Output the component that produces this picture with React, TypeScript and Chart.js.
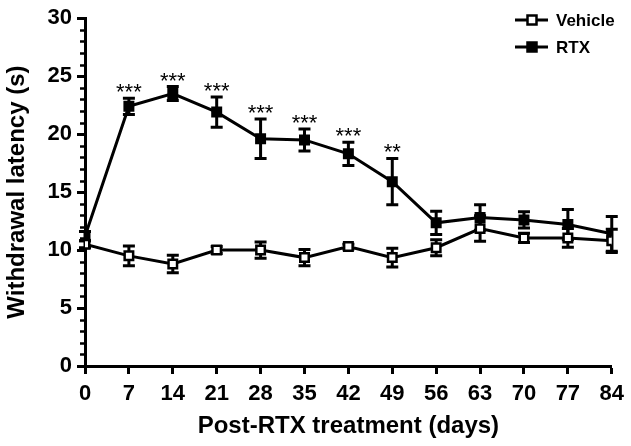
import React, { useEffect, useRef } from "react";
import { Chart, registerables } from "chart.js";

Chart.register(...registerables);

const days = [0, 7, 14, 21, 28, 35, 42, 49, 56, 63, 70, 77, 84];
const vehicleMean = [10.5, 9.5, 8.8, 10.0, 10.0, 9.35, 10.3, 9.35, 10.2, 11.85, 11.05, 11.05, 10.8];
const vehicleSem = [0.3, 0.85, 0.75, 0.3, 0.7, 0.7, 0.2, 0.8, 0.7, 1.1, 0.4, 0.8, 1.0];
const rtxMean = [11.2, 22.4, 23.5, 21.9, 19.6, 19.5, 18.3, 15.9, 12.35, 12.8, 12.6, 12.2, 11.4];
const rtxSem = [0.4, 0.7, 0.6, 1.3, 1.7, 0.95, 1.0, 2.0, 1.0, 1.1, 0.7, 1.3, 1.5];
const rtxStars = ["", "***", "***", "***", "***", "***", "***", "**", "", "", "", "", ""];
const seriesNames = ["Vehicle", "RTX"];
const yMin = 0;
const yMax = 30;
const yMajorStep = 5;
const yMinorStep = 1;
const xMin = 0;
const xMax = 84;
const xStep = 7;

const FONT = '"Liberation Sans", Arial, Helvetica, sans-serif';

const errorBarsPlugin = {
  id: "errorBars",
  beforeDatasetsDraw(chart: any) {
    const { ctx, scales } = chart;
    const x = scales.x;
    const y = scales.y;
    const sets = [
      { m: rtxMean, e: rtxSem },
      { m: vehicleMean, e: vehicleSem },
    ];
    ctx.save();
    ctx.strokeStyle = "#000";
    ctx.lineWidth = 3;
    ctx.lineCap = "butt";
    for (const s of sets) {
      for (let i = 0; i < days.length; i++) {
        const px = x.getPixelForValue(days[i]);
        const top = y.getPixelForValue(s.m[i] + s.e[i]);
        const bot = y.getPixelForValue(s.m[i] - s.e[i]);
        ctx.beginPath();
        ctx.moveTo(px, top);
        ctx.lineTo(px, bot);
        ctx.moveTo(px - 6, top);
        ctx.lineTo(px + 6, top);
        ctx.moveTo(px - 6, bot);
        ctx.lineTo(px + 6, bot);
        ctx.stroke();
      }
    }
    ctx.restore();
  },
  afterDatasetsDraw(chart: any) {
    const { ctx, scales } = chart;
    const x = scales.x;
    const y = scales.y;
    ctx.save();
    ctx.fillStyle = "#000";
    ctx.font = `22px ${FONT}`;
    ctx.textAlign = "center";
    ctx.textBaseline = "alphabetic";
    for (let i = 0; i < days.length; i++) {
      if (!rtxStars[i]) continue;
      const px = x.getPixelForValue(days[i]);
      const top = y.getPixelForValue(rtxMean[i] + rtxSem[i]);
      ctx.fillText(rtxStars[i], px, top + 1);
    }
    ctx.restore();
  },
  afterDraw(chart: any) {
    const { ctx, scales, chartArea } = chart;
    const y = scales.y;
    ctx.save();
    ctx.strokeStyle = "#000";
    ctx.lineWidth = 2.5;
    for (let v = yMin; v <= yMax; v += yMinorStep) {
      if (v % yMajorStep === 0) continue;
      const py = Math.round(y.getPixelForValue(v)) + 0.5;
      ctx.beginPath();
      ctx.moveTo(chartArea.left - 5, py);
      ctx.lineTo(chartArea.left, py);
      ctx.stroke();
    }
    const entries = [
      { name: seriesNames[0], fill: "#fff", y: 20 },
      { name: seriesNames[1], fill: "#000", y: 47 },
    ];
    for (const e of entries) {
      ctx.strokeStyle = "#000";
      ctx.lineWidth = 3;
      ctx.beginPath();
      ctx.moveTo(515, e.y);
      ctx.lineTo(548, e.y);
      ctx.stroke();
      ctx.fillStyle = e.fill;
      ctx.lineWidth = 2.5;
      ctx.beginPath();
      ctx.rect(527.5, e.y - 4.5, 9, 9);
      ctx.fill();
      ctx.stroke();
      ctx.fillStyle = "#000";
      ctx.font = `bold 17px ${FONT}`;
      ctx.textAlign = "left";
      ctx.textBaseline = "middle";
      ctx.fillText(e.name, 556, e.y + 1);
    }
    ctx.restore();
  },
};

export default function App() {
  const ref = useRef<HTMLCanvasElement | null>(null);
  useEffect(() => {
    if (!ref.current) return;
    const chart = new Chart(ref.current, {
      type: "line",
      data: {
        datasets: [
          {
            label: seriesNames[0],
            data: days.map((d, i) => ({ x: d, y: vehicleMean[i] })),
            borderColor: "#000",
            borderWidth: 3,
            pointStyle: "rect",
            pointRadius: 6,
            pointBorderWidth: 2.5,
            pointBackgroundColor: "#fff",
            pointBorderColor: "#000",
            tension: 0,
          },
          {
            label: seriesNames[1],
            data: days.map((d, i) => ({ x: d, y: rtxMean[i] })),
            borderColor: "#000",
            borderWidth: 3,
            pointStyle: "rect",
            pointRadius: 6,
            pointBorderWidth: 2.5,
            pointBackgroundColor: "#000",
            pointBorderColor: "#000",
            tension: 0,
          },
        ],
      },
      options: {
        animation: false,
        responsive: false,
        layout: { padding: { top: 15, right: 19, left: 0, bottom: 0 } },
        plugins: {
          legend: { display: false },
          tooltip: { enabled: false },
        },
        scales: {
          x: {
            type: "linear",
            min: xMin,
            max: xMax,
            afterFit: (s: any) => {
              s.height = 80;
            },
            ticks: {
              stepSize: xStep,
              color: "#000",
              font: { family: FONT, size: 22, weight: "bold" },
              padding: 7,
              maxRotation: 0,
            },
            grid: {
              display: true,
              drawOnChartArea: false,
              drawTicks: true,
              tickLength: 8,
              tickWidth: 3,
              tickColor: "#000",
              color: "#000",
            },
            border: { display: true, color: "#000", width: 3 },
            title: {
              display: true,
              text: "Post-RTX treatment (days)",
              color: "#000",
              font: { family: FONT, size: 24, weight: "bold" },
              padding: { top: 0, bottom: 5 },
            },
          },
          y: {
            type: "linear",
            min: yMin,
            max: yMax,
            afterFit: (s: any) => {
              s.width = 85;
            },
            ticks: {
              stepSize: yMajorStep,
              color: "#000",
              font: { family: FONT, size: 22, weight: "bold" },
              padding: 5,
            },
            grid: {
              display: true,
              drawOnChartArea: false,
              drawTicks: true,
              tickLength: 8,
              tickWidth: 3,
              tickColor: "#000",
              color: "#000",
            },
            border: { display: true, color: "#000", width: 3 },
            title: {
              display: true,
              text: "Withdrawal latency (s)",
              color: "#000",
              font: { family: FONT, size: 24, weight: "bold" },
              padding: { top: 3, bottom: 0 },
            },
          },
        },
      },
      plugins: [errorBarsPlugin],
    });
    return () => chart.destroy();
  }, []);
  return (
    <div style={{ position: "absolute", left: 0, top: 0, width: 631, height: 446, background: "#fff" }}>
      <canvas ref={ref} width={631} height={446} style={{ display: "block" }} />
    </div>
  );
}
